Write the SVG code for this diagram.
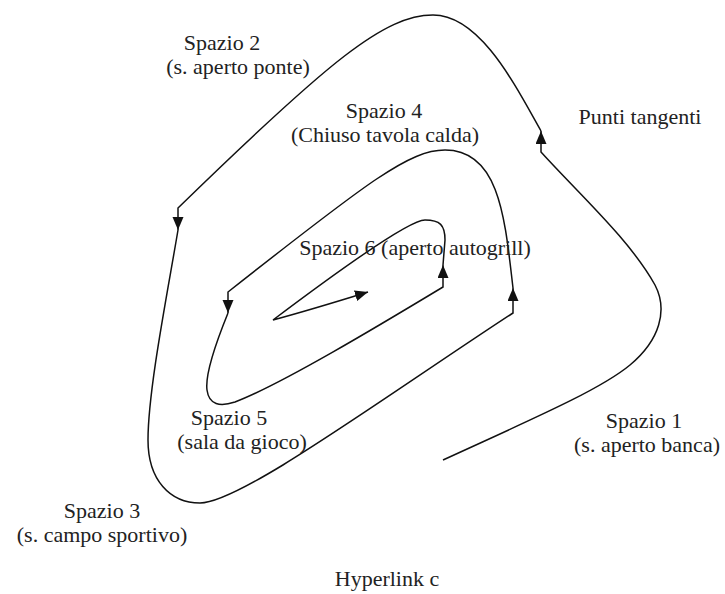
<svg xmlns="http://www.w3.org/2000/svg" width="725" height="594" viewBox="0 0 725 594">
<defs>
<style>
text{font-family:"Liberation Serif","Times New Roman",serif;font-size:22px;fill:#222;text-anchor:middle}
.c{fill:none;stroke:#111;stroke-width:1.5;marker-end:url(#ah)}
</style>
<marker id="ah" markerUnits="userSpaceOnUse" markerWidth="14" markerHeight="12" refX="13" refY="5.5" orient="auto">
<path d="M0,0 L13,5.5 L0,11 Z" fill="#111"/>
</marker>
</defs>
<rect width="725" height="594" fill="#fff"/>
<g id="connectors">
<path class="c" d="M443,460 C530,420 600,390 630,365 C660,340 668,310 655,285 C630,240 580,195 541,152 L541,131"/>
<path class="c" d="M541,131 C515,85 480,15 433,15 C385,15 330,60 178,208 L178,230"/>
<path class="c" d="M178,230 C168,290 148,390 148,440 C148,480 170,503 200,503 C240,503 380,400 513,313 L513,288"/>
<path class="c" d="M513,288 C505,220 500,150 445,150 C410,150 370,180 228,292 L228,313"/>
<path class="c" d="M228,313 C215,345 205,375 207,390 C209,405 220,407 235,402 C280,385 380,325 443,287 L443,265"/>
<path class="c" d="M443,265 L445,240 C445,225 440,220 425,220 C410,220 350,262 273,320 Q310,310 368,292"/>
</g>
<g id="spazio2"><text x="222" y="50">Spazio 2</text><text x="238" y="74">(s. aperto ponte)</text></g>
<g id="spazio4"><text x="384" y="118">Spazio 4</text><text x="385" y="142">(Chiuso tavola calda)</text></g>
<g id="spazio6"><text x="415" y="255">Spazio 6 (aperto autogrill)</text></g>
<g id="punti"><text x="640" y="124">Punti tangenti</text></g>
<g id="spazio1"><text x="644" y="428">Spazio 1</text><text x="647" y="452">(s. aperto banca)</text></g>
<g id="spazio5"><text x="229" y="425">Spazio 5</text><text x="242" y="449">(sala da gioco)</text></g>
<g id="spazio3"><text x="102" y="518">Spazio 3</text><text x="102" y="542">(s. campo sportivo)</text></g>
<g id="hyperlink"><text x="387" y="586">Hyperlink c</text></g>
</svg>
